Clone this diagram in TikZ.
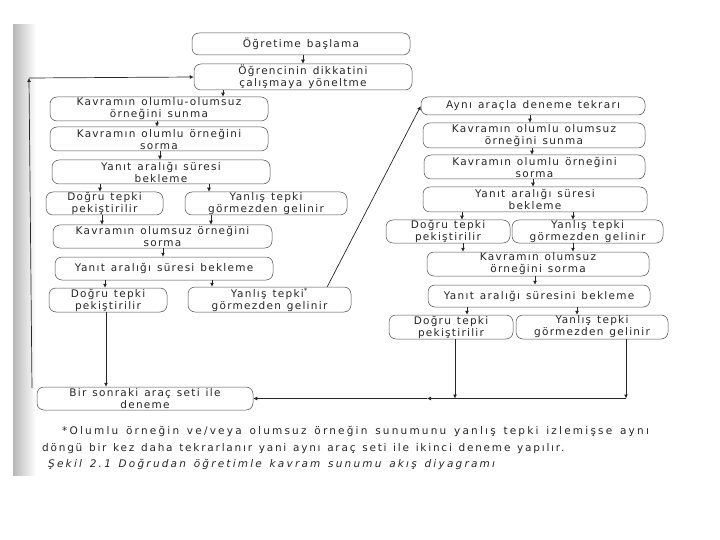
\documentclass[tikz,border=0pt]{standalone}
\usepackage{fontspec}
\setmainfont{DejaVu Sans}[LetterSpace=21,WordSpace=1.4]
\newfontfamily\boxfont{DejaVu Sans}[LetterSpace=12,WordSpace=1.3]
\newfontfamily\captwofont{DejaVu Sans}[LetterSpace=17,WordSpace=1.3]
\usetikzlibrary{arrows.meta}
\newcommand\bx[6]{\node[box, minimum width=#4pt, minimum height=#5pt] (#1) at (#2,#3) {#6};}
\newcommand\vconn[3]{\coordinate (vx) at (#3,0); \draw[arr] (#1.south -| vx) -- (#2.north -| vx);}
\begin{document}
\begin{tikzpicture}[x=1pt,y=-1pt,
  box/.style={draw=black!70, line width=0.5pt, rounded corners=7pt, align=center, inner sep=0pt, font=\boxfont\fontsize{10.5}{12}\selectfont, text=black!85},
  arr/.style={-{Latex[length=4pt,width=4pt]}, line width=0.7pt, draw=black!85},
  captxt/.style={anchor=base west, inner sep=0pt, font=\fontsize{10.5}{12}\selectfont, text=black!85}]
\useasboundingbox (0,0) rectangle (720,540);
\shade[left color=black!28,right color=white] (13,25) rectangle (36,475);
% left column
\bx{b1}{301}{44}{218}{22}{Öğretime başlama}
\bx{b2}{303}{77}{218}{26}{Öğrencinin dikkatini\\çalışmaya yöneltme}
\bx{b3}{159}{109}{218}{24}{Kavramın olumlu-olumsuz\\örneğini sunma}
\bx{b4}{159}{139}{218}{24}{Kavramın olumlu örneğini\\sorma}
\bx{b5}{161}{172}{218}{24}{Yanıt aralığı süresi\\bekleme}
\bx{b6}{104.5}{203.5}{117}{23}{Doğru tepki\\pekiştirilir}
\bx{b7}{266}{203.5}{162}{23}{Yanlış tepki\\görmezden gelinir}
\bx{b8}{162.5}{236.5}{219}{23}{Kavramın olumsuz örneğini\\sorma}
\bx{b9}{164}{268.5}{218}{23}{Yanıt aralığı süresi bekleme}
\bx{b10}{108}{300}{118}{24}{Doğru tepki\\pekiştirilir}
\bx{b11}{269.5}{299.5}{163}{25}{Yanlış tepki\textsuperscript{*}\\görmezden gelinir}
\bx{b12}{145}{398.5}{216}{23}{Bir sonraki araç seti ile\\deneme}
% right column
\bx{r1}{533}{106}{224}{18}{Aynı araçla deneme tekrarı}
\bx{r2}{534}{135.5}{222}{25}{Kavramın olumlu olumsuz\\örneğini sunma}
\bx{r3}{534.5}{167}{221}{24}{Kavramın olumlu örneğini\\sorma}
\bx{r4}{535}{199.5}{224}{25}{Yanıt aralığı süresi\\bekleme}
\bx{r5}{448}{231.5}{124}{23}{Doğru tepki\\pekiştirilir}
\bx{r6}{587.5}{231.5}{151}{23}{Yanlış tepki\\görmezden gelinir}
\bx{r7}{538}{264}{222}{24}{Kavramın olumsuz\\örneğini sorma}
\bx{r8}{539}{296}{222}{22}{Yanıt aralığı süresini bekleme}
\bx{r9}{451}{327}{124}{24}{Doğru tepki\\pekiştirilir}
\bx{r10}{592}{327}{152}{24}{Yanlış tepki\\görmezden gelinir}
% vertical connectors
\vconn{b1}{b2}{303}
\vconn{b2}{b3}{223}
\vconn{b3}{b4}{157}
\vconn{b4}{b5}{160}
\vconn{b5}{b6}{100}
\vconn{b5}{b7}{209}
\vconn{b6}{b8}{102}
\vconn{b7}{b8}{211}
\vconn{b8}{b9}{163}
\vconn{b9}{b10}{105}
\vconn{b9}{b11}{212}
\vconn{b10}{b12}{106}
\vconn{r1}{r2}{530}
\vconn{r2}{r3}{532}
\vconn{r3}{r4}{533}
\vconn{r4}{r5}{462}
\vconn{r4}{r6}{573}
\vconn{r5}{r7}{463}
\vconn{r6}{r7}{573}
\vconn{r7}{r8}{535}
\vconn{r8}{r9}{467}
\vconn{r8}{r10}{577}
% loop back on the left
\coordinate (lb) at (32,388);
\coordinate (lt) at (29,78);
\draw[arr] (lb) -- (lt);
\draw[arr] (lt) -- (b2.west);
% jump to the right column
\draw[arr] ([xshift=-24pt]b11.north east) -- (r1.west);
% right column back to next set
\coordinate (h9) at (455,398.5);
\coordinate (hr) at (626,398.5);
\coordinate (hm) at (427,398.5);
\draw[arr] (r9.south -| h9) -- (h9);
\draw[arr] (r10.south -| hr) -- (hr);
\draw[arr] (hr) -- (hm);
\draw[arr] (hm) -- (b12.east);
% caption
\node[captxt] (c1) at (62,434) {*Olumlu örneğin ve/veya olumsuz örneğin sunumunu yanlış tepki izlemişse aynı};
\node[captxt, font=\captwofont\fontsize{10.5}{12}\selectfont] (c2) at (42,451) {döngü bir kez daha tekrarlanır yani aynı araç seti ile ikinci deneme yapılır.};
\node[captxt, font=\fontsize{10.5}{12}\selectfont\itshape] (c3) at (48,467) {Şekil 2.1 Doğrudan öğretimle kavram sunumu akış diyagramı};
\end{tikzpicture}
\end{document}
